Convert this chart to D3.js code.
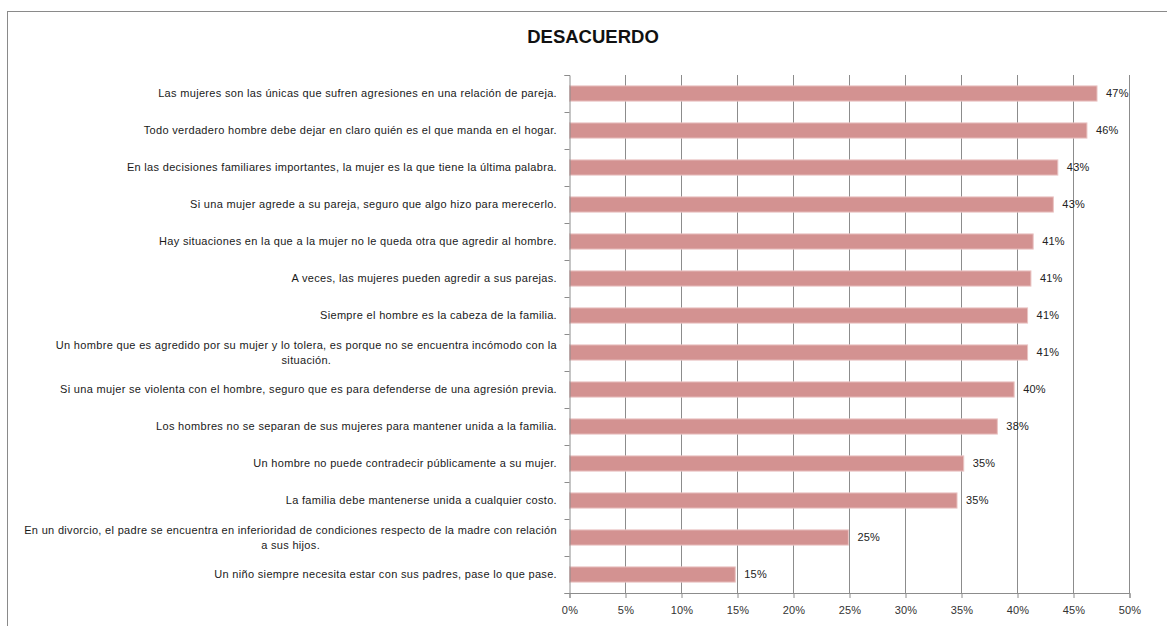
<!DOCTYPE html>
<html>
<head>
<meta charset="utf-8">
<script src="https://cdn.jsdelivr.net/npm/d3@7"></script>
<style>
  body { margin: 0; background: white; }
  svg { display: block; font-family: "Liberation Sans", Arial, sans-serif; }
</style>
</head>
<body>
<div id="chart"></div>
<script>
// statements, top to bottom ("\n" = line break as in the original)
const categories = [
  "Las mujeres son las únicas que sufren agresiones en una relación de pareja.",
  "Todo verdadero hombre debe dejar en claro quién es el que manda en el hogar.",
  "En las decisiones familiares importantes, la mujer es la que tiene la última palabra.",
  "Si una mujer agrede a su pareja, seguro que algo hizo para merecerlo.",
  "Hay situaciones en la que a la mujer no le queda otra que agredir al hombre.",
  "A veces, las mujeres pueden agredir a sus parejas.",
  "Siempre el hombre es la cabeza de la familia.",
  "Un hombre que es agredido por su mujer y lo tolera, es porque no se encuentra incómodo con la\nsituación.",
  "Si una mujer se violenta con el hombre, seguro que es para defenderse de una agresión previa.",
  "Los hombres no se separan de sus mujeres para mantener unida a la familia.",
  "Un hombre no puede contradecir públicamente a su mujer.",
  "La familia debe mantenerse unida a cualquier costo.",
  "En un divorcio, el padre se encuentra en inferioridad de condiciones respecto de la madre con relación\na sus hijos.",
  "Un niño siempre necesita estar con sus padres, pase lo que pase."
];
const values = [47.1, 46.2, 43.6, 43.2, 41.4, 41.2, 40.9, 40.9, 39.7, 38.2, 35.2, 34.6, 24.9, 14.8];
const valueLabels = ["47%", "46%", "43%", "43%", "41%", "41%", "41%", "41%", "40%", "38%", "35%", "35%", "25%", "15%"];
const xTicks = [0, 5, 10, 15, 20, 25, 30, 35, 40, 45, 50];
const title = "DESACUERDO";

const width = 1167, height = 626;
const margin = { left: 569.5, right: 1129.5, top: 75, bottom: 593 };
const gridColor = "#8c8c8c";

const svg = d3.select("#chart").append("svg")
  .attr("width", width)
  .attr("height", height);

svg.append("rect")
  .attr("width", width).attr("height", height)
  .attr("fill", "white");

// outer frame (runs off the right and bottom edge)
svg.append("rect")
  .attr("x", 7.5).attr("y", 11.5)
  .attr("width", 1200).attr("height", 700)
  .attr("fill", "none")
  .attr("stroke", "#8a8a8a");

svg.append("text")
  .attr("x", 593).attr("y", 43)
  .attr("text-anchor", "middle")
  .attr("font-size", 18.5)
  .attr("font-weight", "bold")
  .attr("fill", "#111")
  .text(title);

const x = d3.scaleLinear()
  .domain([0, 50])
  .range([margin.left, margin.right]);

const y = d3.scaleBand()
  .domain(categories)
  .range([margin.top, margin.bottom])
  .paddingInner(0.59)
  .paddingOuter(0.295);

// vertical gridlines
svg.append("g")
  .selectAll("line")
  .data(xTicks.slice(1))
  .enter()
  .append("line")
  .attr("x1", d => x(d)).attr("x2", d => x(d))
  .attr("y1", margin.top).attr("y2", margin.bottom)
  .attr("stroke", gridColor)
  .attr("stroke-width", 1);

// bars
svg.append("g")
  .selectAll("rect")
  .data(categories)
  .enter()
  .append("rect")
  .attr("x", x(0))
  .attr("y", d => y(d))
  .attr("width", (d, i) => x(values[i]) - x(0))
  .attr("height", y.bandwidth())
  .attr("fill", "#d39291")
  .attr("stroke", "#eac4c3")
  .attr("stroke-width", 1);

// value labels
svg.append("g")
  .selectAll("text")
  .data(categories)
  .enter()
  .append("text")
  .attr("x", (d, i) => x(values[i]) + 9)
  .attr("y", d => y(d) + y.bandwidth() / 2)
  .attr("dy", "0.35em")
  .attr("font-size", 11)
  .attr("letter-spacing", 0.2)
  .attr("fill", "#222")
  .text((d, i) => valueLabels[i]);

// x axis
const xAxis = svg.append("g")
  .attr("transform", `translate(0,${margin.bottom})`)
  .call(d3.axisBottom(x)
    .tickValues(xTicks)
    .tickSize(5)
    .tickPadding(8)
    .tickFormat(d => d + "%"));
xAxis.select(".domain").attr("stroke", gridColor);
xAxis.selectAll(".tick line").attr("stroke", gridColor);
xAxis.selectAll(".tick text")
  .attr("font-size", 11)
  .attr("letter-spacing", 0.2)
  .attr("font-family", "Liberation Sans, Arial, sans-serif")
  .attr("fill", "#333");

// y axis: ticks between categories
const yEdges = d3.scaleLinear()
  .domain([0, categories.length])
  .range([margin.top, margin.bottom]);
const yAxis = svg.append("g")
  .attr("transform", `translate(${margin.left},0)`)
  .call(d3.axisLeft(yEdges)
    .tickValues(d3.range(categories.length + 1))
    .tickSize(5)
    .tickFormat(""));
yAxis.select(".domain").attr("stroke", gridColor);
yAxis.selectAll(".tick line").attr("stroke", gridColor);

// category labels (multi-line ones centred like the original)
const labelRight = 557;
const lineGap = 15;
svg.append("g")
  .selectAll("text")
  .data(categories)
  .enter()
  .append("text")
  .attr("font-size", 11)
  .attr("letter-spacing", 0.32)
  .attr("fill", "#1a1a1a")
  .each(function (d) {
    const lines = d.split("\n");
    const t = d3.select(this);
    const cy = y(d) + y.bandwidth() / 2;
    if (lines.length === 1) {
      t.attr("text-anchor", "end")
        .append("tspan")
        .attr("x", labelRight)
        .attr("y", cy)
        .attr("dy", "0.35em")
        .text(lines[0]);
    } else {
      // measure widest line, then centre all lines on it
      const probe = t.append("tspan").text(lines[0]);
      const w = probe.node().getComputedTextLength();
      probe.remove();
      const cx = labelRight - w / 2;
      t.attr("text-anchor", "middle");
      lines.forEach((line, k) => {
        t.append("tspan")
          .attr("x", cx)
          .attr("y", cy + (k - (lines.length - 1) / 2) * lineGap)
          .attr("dy", "0.35em")
          .text(line);
      });
    }
  });
</script>
</body>
</html>
